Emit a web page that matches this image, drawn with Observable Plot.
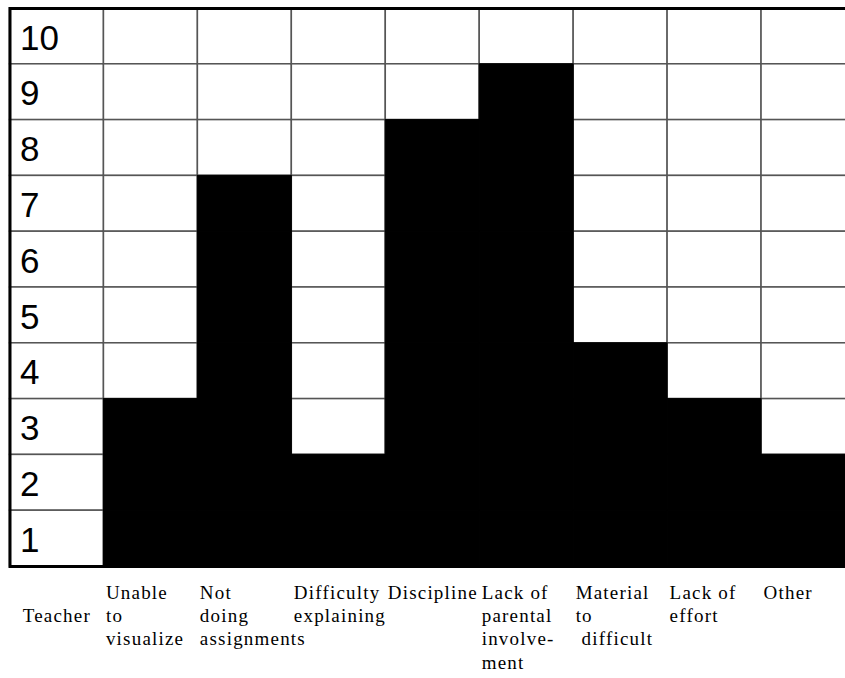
<!DOCTYPE html>
<html>
<head>
<meta charset="utf-8">
<script src="https://cdn.jsdelivr.net/npm/d3@7"></script>
<script src="https://cdn.jsdelivr.net/npm/@observablehq/plot@0.6"></script>
<style>
  html, body { margin: 0; padding: 0; background: #fff; overflow: hidden; width: 845px; }
  #chart svg { max-width: none !important; width: 860px !important; height: 678px !important; display: block; }
  #chart g[font-family^="Liberation Serif"] text { letter-spacing: 1.2px; }
</style>
</head>
<body>
<div id="chart"></div>
<script>
// Data
const firstColumn = "Teacher";
const categories = ["Unable to visualize", "Not doing assignments", "Difficulty explaining", "Discipline",
  "Lack of parental involvement", "Material to difficult", "Lack of effort", "Other"];
const values = [3, 7, 2, 8, 9, 4, 3, 2];
const levels = [10, 9, 8, 7, 6, 5, 4, 3, 2, 1];
const columnLabels = ["\n\u2002Teacher", "Unable\nto\nvisualize", "Not\ndoing\nassignments", "Difficulty\nexplaining",
  "Discipline", "Lack of\nparental\ninvolve-\nment", "Material\nto\n\u00A0difficult", "Lack of\neffort", "Other"];

const columns = [firstColumn, ...categories];

// Build cell table from data
const cells = [];
columns.forEach((c, ci) => {
  levels.forEach(l => {
    const v = ci === 0 ? 0 : values[ci - 1];
    cells.push({col: c, level: l, filled: l <= v});
  });
});

const chart = Plot.plot({
  width: 860,
  height: 678,
  marginLeft: 9.5,
  marginRight: 5,
  marginTop: 8,
  marginBottom: 112,
  style: {background: "#fff"},
  x: {type: "band", domain: columns, padding: 0, round: false, axis: null},
  y: {type: "band", domain: levels, padding: 0, round: false, axis: null},
  marks: [
    Plot.cell(cells, {x: "col", y: "level", fill: "#fff", stroke: "#555", strokeWidth: 1.5, inset: 0}),
    Plot.cell(cells.filter(d => d.filled), {x: "col", y: "level", fill: "#000", stroke: "#000", strokeWidth: 1, inset: 0}),
    Plot.text(levels, {x: () => firstColumn, y: d => d, text: d => String(d), textAnchor: "start",
      dx: -37, dy: 2, fontSize: 35, fontFamily: "Liberation Sans, Arial, sans-serif", fill: "#000"}),
    Plot.frame({stroke: "#000", strokeWidth: 3}),
    Plot.text(columns, {x: d => d, frameAnchor: "bottom", text: (d, i) => columnLabels[i],
      textAnchor: "start", lineAnchor: "top", lineHeight: 1.23, dx: -45, dy: 15.5,
      fontSize: 19, fontFamily: "Liberation Serif, Times New Roman, serif", fill: "#000"})
  ]
});
document.getElementById("chart").appendChild(chart);
</script>
</body>
</html>
